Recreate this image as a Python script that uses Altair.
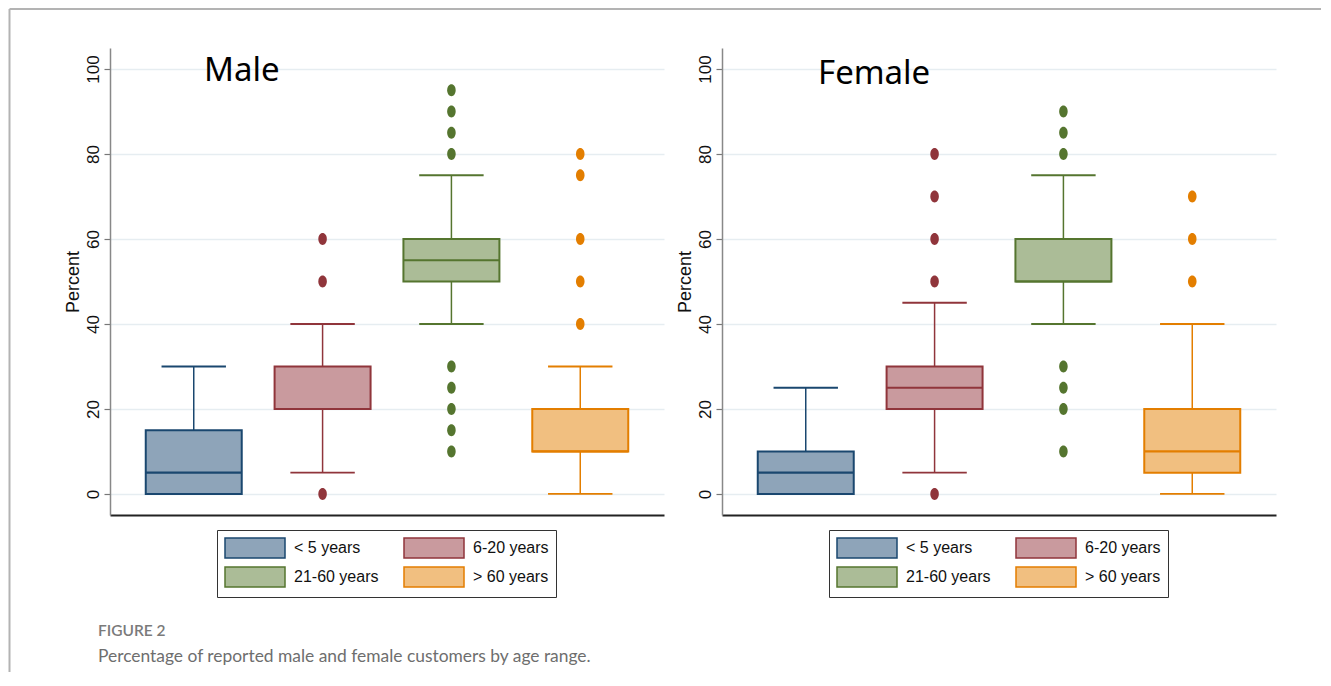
import altair as alt
import pandas as pd

# ---------------- data ----------------
groups = ["< 5 years", "6-20 years", "21-60 years", "> 60 years"]
positions = [1, 2, 3, 4]

male_low = [0, 5, 40, 0]
male_q1 = [0, 20, 50, 10]
male_med = [5, 20, 55, 10]
male_q3 = [15, 30, 60, 20]
male_high = [30, 40, 75, 30]
male_outliers = [[], [0, 50, 60], [10, 15, 20, 25, 30, 80, 85, 90, 95], [40, 50, 60, 75, 80]]

female_low = [0, 5, 40, 0]
female_q1 = [0, 20, 50, 5]
female_med = [5, 25, 50, 10]
female_q3 = [10, 30, 60, 20]
female_high = [25, 45, 75, 40]
female_outliers = [[], [0, 50, 60, 70, 80], [10, 20, 25, 30, 80, 85, 90], [50, 60, 70]]

y_ticks = [0, 20, 40, 60, 80, 100]

caption_head = "FIGURE 2"
caption_text = "Percentage of reported male and female customers by age range."

# ---------------- style ----------------
light = ["#8ea4b9", "#c99a9e", "#abbc97", "#f1bf80"]
dark = ["#1a476f", "#90353b", "#55752f", "#e37e00"]
BOX_HALF = 0.3725
CAP_HALF = 0.25
W, H = 554, 467
FONT = "Liberation Sans"


def panel(name, title_x, title_y, lows, q1s, meds, q3s, highs, outliers, with_frame):
    stats = pd.DataFrame({"group": groups, "pos": positions, "low": lows, "q1": q1s,
                          "med": meds, "q3": q3s, "high": highs})
    out_df = pd.DataFrame([{"group": g, "pos": p, "value": v}
                           for g, p, vals in zip(groups, positions, outliers) for v in vals])

    xs = alt.Scale(domain=[0.35, 4.65], nice=False, zero=False)
    ys = alt.Scale(domain=[-4.95, 104.95], nice=False, zero=False)
    x_axis = alt.Axis(labels=False, ticks=False, grid=False, title=None,
                      domainColor="#222222", domainWidth=1.8)
    y_axis = alt.Axis(values=y_ticks, title="Percent", labelAngle=270,
                      labelAlign="center", labelBaseline="bottom",
                      labelFontSize=17, labelFont=FONT, labelColor="#111111",
                      labelPadding=2, tickSize=6, tickColor="#777777", tickWidth=1.2,
                      domainColor="#888888", domainWidth=1.5,
                      grid=True, gridColor="#e6edf1", gridWidth=1.5,
                      titleFontSize=18, titleFont=FONT, titleFontWeight="normal",
                      titleColor="#111111", titlePadding=2)
    # dark colour for lines and dots: data-derived domain (sorted in group order)
    color_enc = alt.Color("group:N", sort=groups, scale=alt.Scale(range=dark), legend=None)
    legend = alt.Legend(title=None, orient="none", legendX=107, legendY=482, columns=2,
                        direction="horizontal",
                        symbolType="M-1,-1L5,-1L5,1L-1,1Z", symbolSize=400,
                        symbolStrokeWidth=1.5, labelOffset=48, labelFontSize=16,
                        labelFont=FONT, labelColor="#111111", labelLimit=200,
                        strokeColor="#333333", fillColor="white", padding=7,
                        columnPadding=22, rowPadding=3)

    base = alt.Chart(stats).transform_calculate(
        xl=f"datum.pos - {BOX_HALF}", xr=f"datum.pos + {BOX_HALF}",
        cl=f"datum.pos - {CAP_HALF}", cr=f"datum.pos + {CAP_HALF}")

    whisk_lo = base.mark_rule(strokeWidth=1.5).encode(
        x=alt.X("pos:Q", scale=xs, axis=x_axis),
        y=alt.Y("low:Q", scale=ys, axis=y_axis), y2="q1:Q", color=color_enc)
    whisk_hi = base.mark_rule(strokeWidth=1.5).encode(
        x=alt.X("pos:Q", scale=xs), y=alt.Y("q3:Q", scale=ys), y2="high:Q", color=color_enc)
    cap_lo = base.mark_rule(strokeWidth=1.8).encode(
        x=alt.X("cl:Q", scale=xs), x2="cr:Q", y=alt.Y("low:Q", scale=ys), color=color_enc)
    cap_hi = base.mark_rule(strokeWidth=1.8).encode(
        x=alt.X("cl:Q", scale=xs), x2="cr:Q", y=alt.Y("high:Q", scale=ys), color=color_enc)
    box = base.mark_rect(strokeWidth=2).encode(
        x=alt.X("xl:Q", scale=xs), x2="xr:Q",
        y=alt.Y("q1:Q", scale=ys), y2="q3:Q",
        fill=alt.Fill("group:N", scale=alt.Scale(domain=groups, range=light), legend=legend),
        stroke=alt.Stroke("group:N", scale=alt.Scale(domain=groups, range=dark), legend=legend))
    median = base.mark_rule(strokeWidth=2.2).encode(
        x=alt.X("xl:Q", scale=xs), x2="xr:Q", y=alt.Y("med:Q", scale=ys), color=color_enc)
    layers = [whisk_lo, whisk_hi, cap_lo, cap_hi, box, median]
    if len(out_df):
        pts = alt.Chart(out_df).mark_point(
            filled=True, opacity=1, size=140,
            shape="M0,-1 A0.72,1 0 1,1 0,1 A0.72,1 0 1,1 0,-1 Z").encode(
            x=alt.X("pos:Q", scale=xs), y=alt.Y("value:Q", scale=ys), color=color_enc)
        layers.append(pts)
    title = alt.Chart(alt.Data(values=[{"t": name}])).mark_text(
        align="left", baseline="alphabetic", font="Noto Sans", fontSize=33, color="#000000"
    ).encode(x=alt.value(title_x), y=alt.value(title_y), text="t:N")
    layers.append(title)

    if with_frame:
        frame_v = alt.Chart(alt.Data(values=[{"a": 1}])).mark_rule(
            color="#b3b3b3", strokeWidth=2).encode(
            x=alt.value(-100.5), y=alt.value(-39), y2=alt.value(624))
        frame_h = alt.Chart(alt.Data(values=[{"a": 1}])).mark_rule(
            color="#b3b3b3", strokeWidth=2).encode(
            x=alt.value(-100.5), x2=alt.value(1211), y=alt.value(-39))
        cap1 = alt.Chart(alt.Data(values=[{"t": caption_head}])).mark_text(
            align="left", baseline="alphabetic", font="Lato", fontSize=15.5,
            fontWeight=600, color="#7a7a7a").encode(
            x=alt.value(-12), y=alt.value(588), text="t:N")
        cap2 = alt.Chart(alt.Data(values=[{"t": caption_text}])).mark_text(
            align="left", baseline="alphabetic", font="Lato", fontSize=17.4,
            color="#6e6e6e").encode(
            x=alt.value(-12), y=alt.value(614), text="t:N")
        layers = [frame_v, frame_h] + layers + [cap1, cap2]

    return alt.layer(*layers).properties(width=W, height=H)


male = panel("Male", 94, 33, male_low, male_q1, male_med, male_q3, male_high,
             male_outliers, True)
female = panel("Female", 96, 36, female_low, female_q1, female_med, female_q3,
               female_high, female_outliers, False)

chart = alt.hconcat(male, female, spacing=58, bounds="flush").resolve_scale(
    fill="independent", stroke="independent", color="independent"
).resolve_legend(
    fill="independent", stroke="independent"
).properties(
    padding={"left": 0, "top": 0, "right": 0, "bottom": 0}
).configure(font=FONT).configure_view(strokeWidth=0)

chart.save("out.html", embed_options={"renderer": "svg", "actions": False})
